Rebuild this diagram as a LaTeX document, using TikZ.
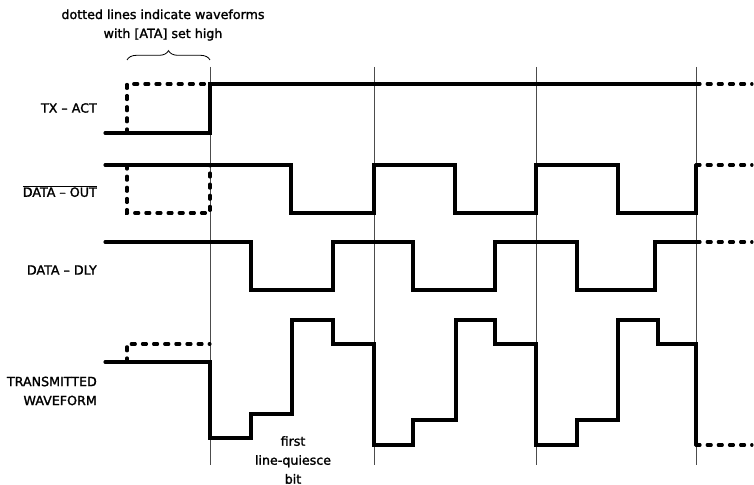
\documentclass[tikz,border=0pt]{standalone}
\usepackage{fontspec}
\setmainfont{DejaVu Sans}[FakeBold=1.6,BoldFont=DejaVu Sans]
\usetikzlibrary{decorations.pathreplacing}

\begin{document}
\begin{tikzpicture}[
    x=0.03cm, y=-0.03cm,
    every node/.style={font=\fontsize{10.8}{16.2}\selectfont\bfseries,inner sep=0pt},
    signal/.style={line width=2.6pt,line cap=round},
    ata/.style={signal,dash pattern=on 3.5pt off 6pt},
    bitline/.style={line width=0.7pt,black!70},
    siglabel/.style={anchor=east,align=right}
  ]
    \useasboundingbox (0,0) rectangle (754,485);

    % bit boundaries
    \foreach \bx in {210,374,536,696}
      \draw[bitline] (\bx,67) -- (\bx,465);

    % note and brace
    \node[align=center] (note) at (163,25) {dotted lines indicate waveforms\\with [ATA] set high};
    \coordinate (ataL) at (127,60);
    \coordinate (ataR) at (210,60);
    \draw[line width=0.7pt,decorate,decoration={brace,amplitude=8}] (ataL) -- (ataR);

    % signal names
    \node[siglabel] (txact) at (97,108) {TX -- ACT};
    \node[siglabel] (dataout) at (97,191) {$\overline{\mbox{DATA -- OUT}}$};
    \node[siglabel] (datadly) at (97,270) {DATA -- DLY};
    \node[siglabel] (txwave) at (97,391) {TRANSMITTED\\WAVEFORM};
    \node[align=center] (quiesce) at (293,460) {first\\line-quiesce\\bit};

    % TX-ACT
    \draw[signal] (105,133) -- (210,133) -- (210,84) -- (696,84);
    \draw[ata] (696,84) -- (752,84);
    \draw[ata] (127,133) -- (127,84) -- (210,84);

    % DATA-OUT
    \draw[signal] (105,165) -- (291,165) -- (291,213) -- (374,213) -- (374,165)
      -- (455,165) -- (455,213) -- (536,213) -- (536,165) -- (618,165)
      -- (618,213) -- (696,213) -- (696,165);
    \draw[ata] (696,165) -- (752,165);
    \draw[ata] (127,165) -- (127,213) -- (210,213) -- (210,165);

    % DATA-DLY
    \draw[signal] (105,242) -- (251,242) -- (251,290) -- (333,290) -- (333,242)
      -- (413,242) -- (413,290) -- (495,290) -- (495,242) -- (577,242)
      -- (577,290) -- (655,290) -- (655,242) -- (696,242);
    \draw[ata] (696,242) -- (752,242);

    % transmitted waveform
    \draw[signal] (105,362) -- (210,362) -- (210,438) -- (251,438) -- (251,414)
      -- (292,414) -- (292,320) -- (333,320) -- (333,344) -- (374,344)
      -- (374,445) -- (413,445) -- (413,420) -- (456,420) -- (456,320)
      -- (495,320) -- (495,344) -- (536,344) -- (536,445) -- (577,445)
      -- (577,420) -- (618,420) -- (618,320) -- (658,320) -- (658,344)
      -- (696,344) -- (696,445);
    \draw[ata] (696,445) -- (752,445);
    \draw[ata] (127,362) -- (127,344) -- (210,344);
  \end{tikzpicture}
\end{document}
